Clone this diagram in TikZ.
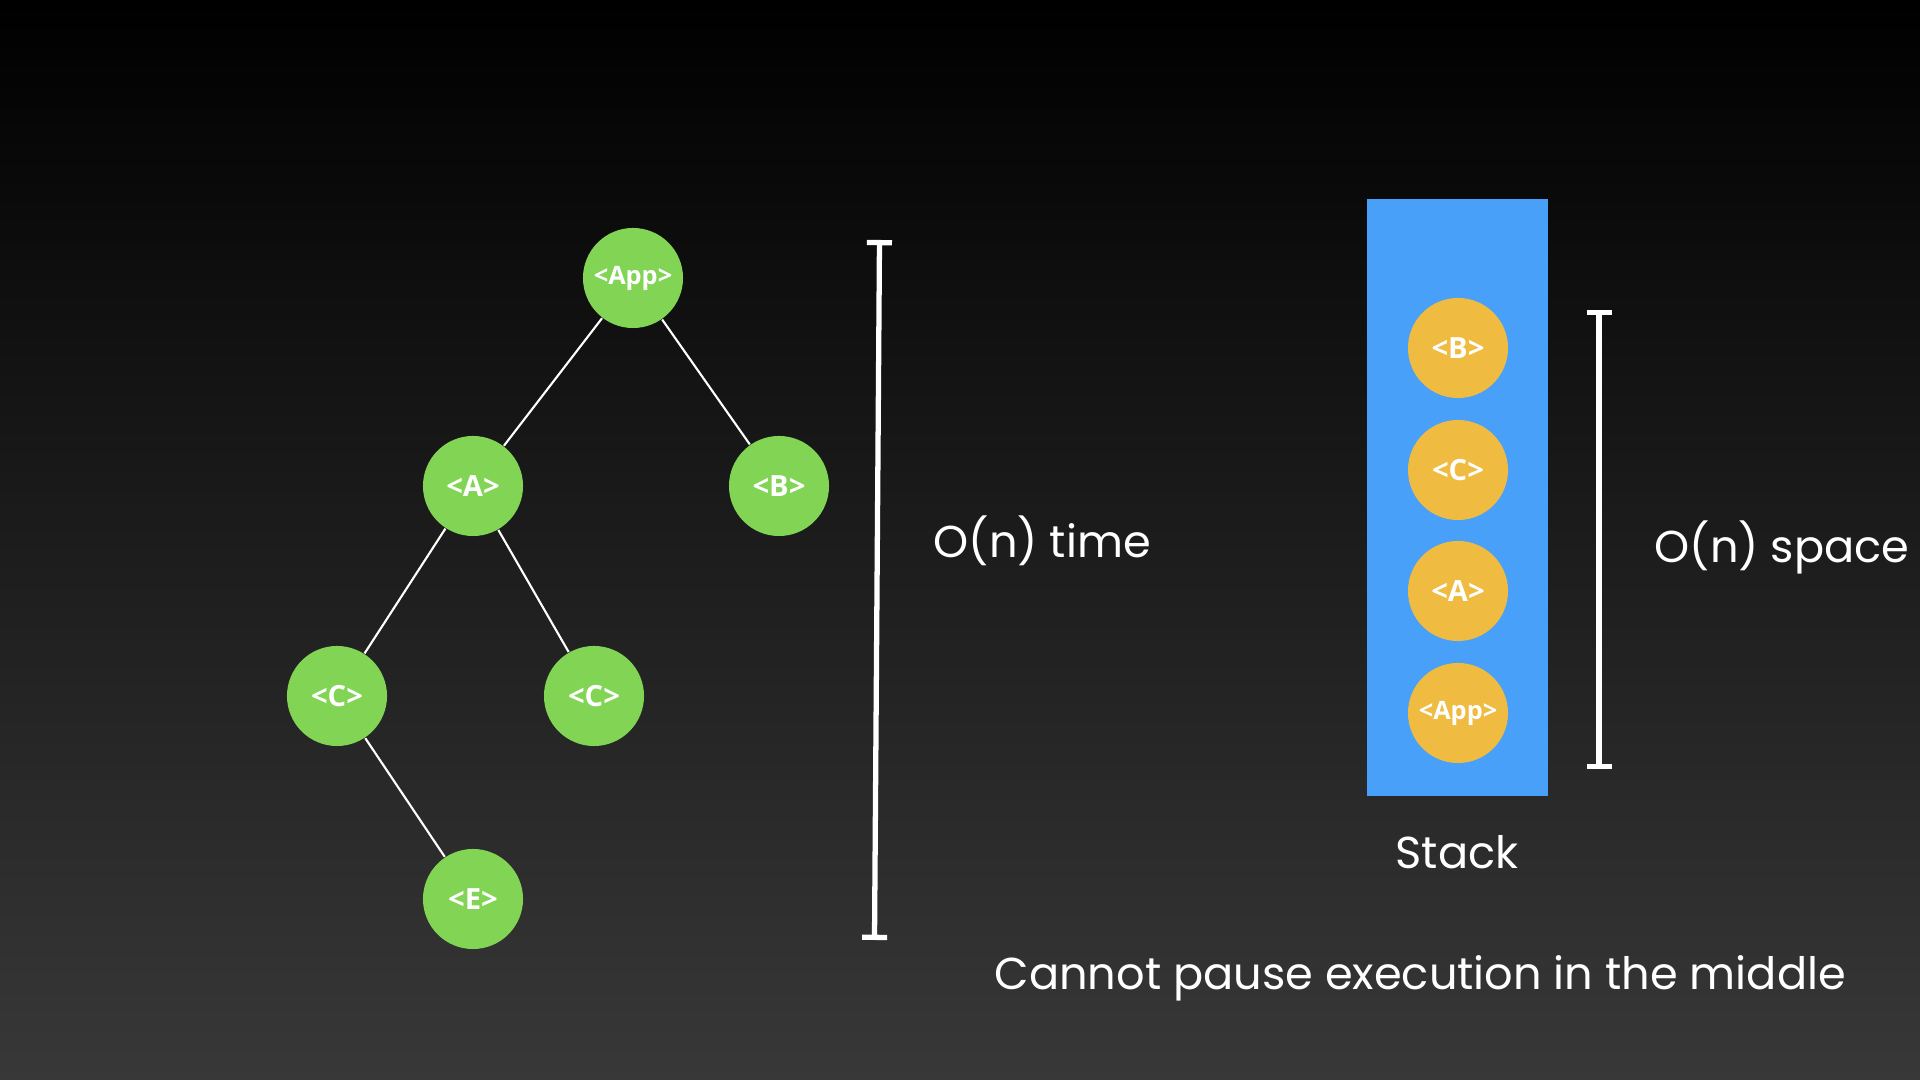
\documentclass[tikz,border=0pt]{standalone}
\usepackage{fontspec}
\setmainfont{Poppins}
\newfontfamily\tagfont{Open Sans}
\usepackage{xcolor}
\usepackage{tikz}
\usetikzlibrary{
	arrows.meta,shapes
}
\definecolor{leafgreen}{HTML}{82D455}
\definecolor{framegold}{HTML}{EFBB40}
\definecolor{stackblue}{HTML}{48A0F8}
\definecolor{bgbottom}{HTML}{383838}

\begin{document}
\begin{tikzpicture}[x=0.01cm,y=-0.01cm,
		comp/.style={circle,fill=leafgreen,minimum size=1cm,inner sep=0pt,
			text=white,font=\tagfont\bfseries\fontsize{8.3}{9}\selectfont},
		frame/.style={comp,fill=framegold},
		small/.style={font=\tagfont\bfseries\fontsize{7.2}{8}\selectfont},
		caption/.style={text=white,inner sep=0pt,font=\fontsize{12.7}{15}\selectfont},
		bound/.style={draw=white,line width=1.5pt,{Bar[width=0.25cm]}-{Bar[width=0.25cm]}}]
		% background
		\shade[top color=black,bottom color=bgbottom] (0,0) rectangle (1920,1080);
		\useasboundingbox (0,0) rectangle (1920,1080);
		%
		\node[comp,small] (App) at (633,278) {<App>};
		\node[comp] (A) at (473,486) {<A>};
		\node[comp] (B) at (779,486) {<B>};
		\node[comp] (C) at (337,696) {<C>};
		\node[comp] (C') at (594,696) {<C>};
		\node[comp] (E) at (473,899) {<E>};
		%
		\node[fill=stackblue,minimum width=1.81cm,minimum height=5.97cm,inner sep=0pt] (S) at (1457.5,497.5) {};
		\node[frame] (SB) at (1458,348) {<B>};
		\node[frame] (SC) at (1458,470) {<C>};
		\node[frame] (SA) at (1458,591) {<A>};
		\node[frame,small] (SApp) at (1458,713) {<App>};
		%
		\coordinate (T) at (879.5,240);
		\coordinate (T') at (874.5,940);
		\coordinate (P) at (1599,310);
		\coordinate (P') at (1599,769);
		%
		\node[caption,anchor=base west] (time) at (933,558) {O(n) time};
		\node[caption,anchor=base west] (space) at (1654,563) {O(n) space};
		\node[caption,anchor=base] (stack) at (1457,869) {Stack};
		\node[caption,anchor=base west] (pause) at (994,990) {Cannot pause execution in the middle};
		%
		\path[draw=white,line width=0.6pt]
		% tree edges
		(App) edge (A)
		(App) edge (B)
		(A) edge (C)
		(A) edge (C')
		(C) edge (E);
		% bounds
		\draw[bound] (T) -- (T');
		\draw[bound] (P) -- (P');
	\end{tikzpicture}
\end{document}
